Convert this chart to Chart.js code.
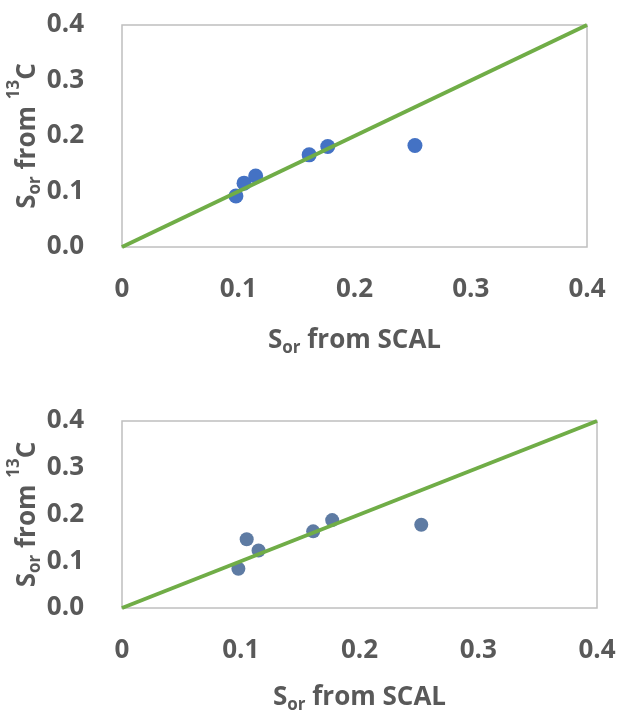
<!DOCTYPE html>
<html>
<head>
<meta charset="utf-8">
<script src="https://cdn.jsdelivr.net/npm/chart.js@4.4.1/dist/chart.umd.min.js"></script>
<style>
  body { margin: 0; background: #fff; }
  .box { position: absolute; left: 0; width: 619px; }
</style>
</head>
<body>
<div class="box" style="top:0;height:360px"><canvas id="chart-top" width="619" height="360"></canvas></div>
<div class="box" style="top:360px;height:353px"><canvas id="chart-bottom" width="619" height="353"></canvas></div>
<script>
const sorScal = [0.098, 0.105, 0.115, 0.161, 0.177, 0.252]
const sor13cTop = [0.092, 0.115, 0.128, 0.166, 0.181, 0.183]
const sor13cBottom = [0.084, 0.147, 0.123, 0.164, 0.188, 0.178]
const unityX = [0, 0.4]
const unityY = [0, 0.4]
const xTickValues = [0, 0.1, 0.2, 0.3, 0.4]
const xTickLabels = ['0', '0.1', '0.2', '0.3', '0.4']
const yTickValues = [0, 0.1, 0.2, 0.3, 0.4]
const yTickLabels = ['0.0', '0.1', '0.2', '0.3', '0.4']

const TEXT_COLOR = '#595959'
const LINE_COLOR = '#70AD47'
const BORDER_COLOR = '#BFBFBF'
const FONT_FAMILY = '"Open Sans", "Noto Sans", sans-serif'
const FONT_SIZE = 26

// draws a run of [text, kind] pieces, kind: 0 normal, 1 subscript, 2 superscript
function drawRich(ctx, pieces, cx, baseY) {
    const big = 'bold ' + FONT_SIZE + 'px ' + FONT_FAMILY
    const small = 'bold ' + Math.round(FONT_SIZE * 0.64) + 'px ' + FONT_FAMILY
    let total = 0
    const widths = pieces.map(p => {
        ctx.font = p[1] ? small : big
        const w = ctx.measureText(p[0]).width
        total += w
        return w
    })
    let x = cx - total / 2
    ctx.fillStyle = TEXT_COLOR
    ctx.textAlign = 'left'
    ctx.textBaseline = 'alphabetic'
    pieces.forEach((p, i) => {
        ctx.font = p[1] ? small : big
        let y = baseY
        if (p[1] === 1) y += 5
        if (p[1] === 2) y -= 16
        ctx.fillText(p[0], x, y)
        x += widths[i]
    })
}

const frameAndTitles = {
    id: 'frameAndTitles',
    beforeDatasetsDraw(chart) {
        const { ctx, chartArea: a } = chart
        ctx.save()
        ctx.strokeStyle = BORDER_COLOR
        ctx.lineWidth = 1.5
        ctx.strokeRect(a.left, a.top, a.right - a.left, a.bottom - a.top)
        ctx.restore()
    },
    afterDraw(chart, args, opts) {
        const { ctx, chartArea: a } = chart
        ctx.save()
        drawRich(ctx, [['S', 0], ['or', 1], [' from SCAL', 0]], (a.left + a.right) / 2, a.bottom + opts.xTitleGap)
        ctx.translate(opts.yTitleX, (a.top + a.bottom) / 2)
        ctx.rotate(-Math.PI / 2)
        drawRich(ctx, [['S', 0], ['or', 1], [' from ', 0], ['13', 2], ['C', 0]], 0, 0)
        ctx.restore()
    }
}

function makeChart(id, yValues, pointColor, pointRadius, pad, xAxisHeight, xTitleGap) {
    const el = document.getElementById(id)
    return new Chart(el, {
        type: 'scatter',
        data: {
            datasets: [{
                data: unityX.map((x, i) => ({ x: x, y: unityY[i] })),
                showLine: true,
                borderColor: LINE_COLOR,
                borderWidth: 4,
                pointRadius: 0,
                clip: 4,
                order: 0
            }, {
                data: sorScal.map((x, i) => ({ x: x, y: yValues[i] })),
                backgroundColor: pointColor,
                borderWidth: 0,
                pointRadius: pointRadius,
                order: 1
            }]
        },
        options: {
            responsive: false,
            animation: false,
            layout: { padding: pad },
            plugins: {
                legend: { display: false },
                tooltip: { enabled: false },
                frameAndTitles: { xTitleGap: xTitleGap, yTitleX: 35 }
            },
            scales: {
                x: {
                    type: 'linear',
                    min: 0,
                    max: 0.4,
                    grid: { display: false },
                    border: { display: false },
                    afterBuildTicks: s => { s.ticks = xTickValues.map(v => ({ value: v })) },
                    afterFit: s => {
                        s.height = xAxisHeight
                        s.paddingLeft = 0
                        s.paddingRight = 0
                    },
                    ticks: {
                        padding: 19,
                        color: TEXT_COLOR,
                        font: { family: FONT_FAMILY, size: FONT_SIZE, weight: 'bold' },
                        maxRotation: 0,
                        callback: (v, i) => xTickLabels[i]
                    }
                },
                y: {
                    type: 'linear',
                    min: 0,
                    max: 0.4,
                    grid: { display: false },
                    border: { display: false },
                    afterBuildTicks: s => { s.ticks = yTickValues.map(v => ({ value: v })) },
                    afterFit: s => {
                        s.width = 122
                        s.paddingTop = 0
                        s.paddingBottom = 0
                    },
                    ticks: {
                        padding: 30,
                        color: TEXT_COLOR,
                        font: { family: FONT_FAMILY, size: FONT_SIZE, weight: 'bold' },
                        callback: (v, i) => yTickLabels[i]
                    }
                }
            }
        },
        plugins: [frameAndTitles]
    })
}

makeChart('chart-top', sor13cTop, '#4472C4', 7.5, { top: 25, right: 32, left: 0, bottom: 0 }, 113, 101)
makeChart('chart-bottom', sor13cBottom, '#5E7BA3', 7, { top: 61, right: 22, left: 0, bottom: 0 }, 105, 97)
</script>
</body>
</html>
